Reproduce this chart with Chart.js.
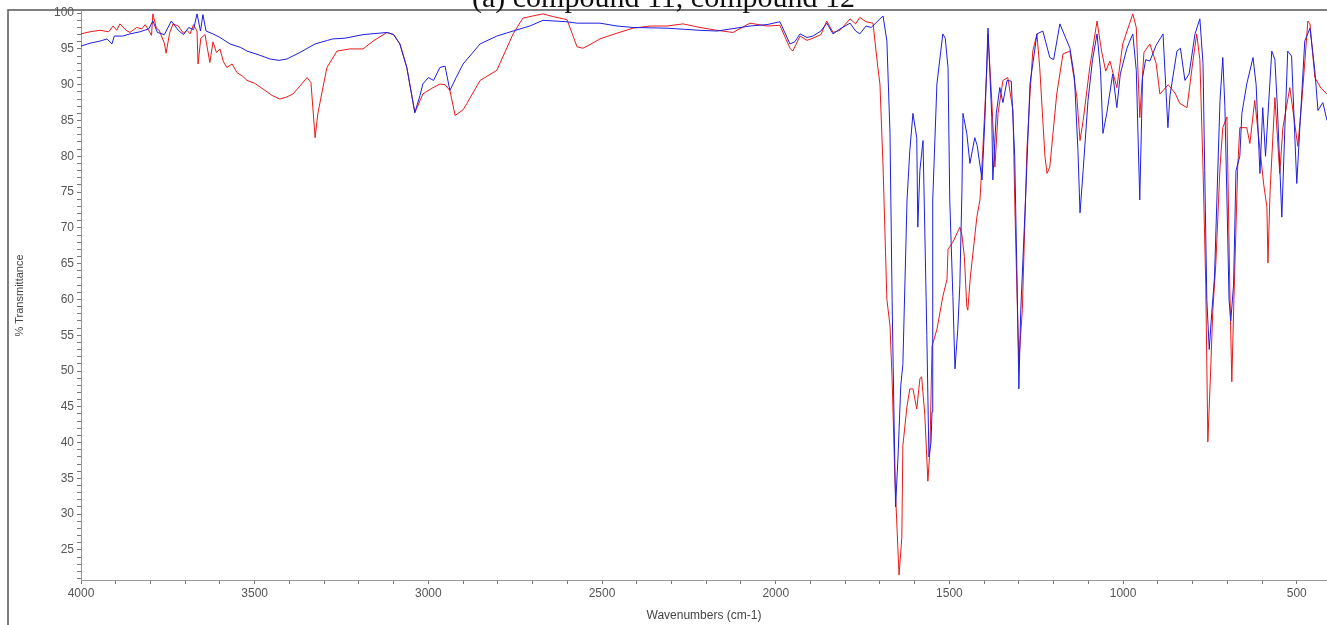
<!DOCTYPE html>
<html>
<head>
<meta charset="utf-8">
<title>IR spectra</title>
<script src="https://cdn.jsdelivr.net/npm/chart.js@4.4.0/dist/chart.umd.min.js"></script>
<style>
  html, body { margin: 0; padding: 0; background: #fff; overflow: hidden; }
  #wrap { position: relative; width: 1327px; height: 625px; }
  #title {
    position: absolute; left: 0; top: -18px; width: 1327px; z-index: 2;
    text-align: center; white-space: nowrap; color: #111;
    font: 30px/30px "Liberation Serif", "DejaVu Serif", serif;
  }
  canvas { position: absolute; left: 0; top: 0; }
</style>
</head>
<body>
<div id="wrap">
  <div id="title">(a) compound 11, compound 12</div>
  <canvas id="ir_chart" width="1327" height="625"></canvas>
</div>
<script>
// wavenumbers (cm-1) and % transmittance
const redWn = [4000, 3974, 3945, 3920, 3908, 3897, 3888, 3870, 3859, 3840, 3825, 3815, 3797, 3793, 3783, 3775, 3760, 3755, 3745, 3735,
  3720, 3705, 3695, 3686, 3676, 3666, 3663, 3655, 3643, 3629, 3620, 3610, 3600, 3590, 3580, 3565, 3551, 3535, 3522, 3500,
  3476, 3450, 3427, 3407, 3390, 3370, 3349, 3338, 3326, 3318, 3306, 3292, 3263, 3226, 3188, 3159, 3119, 3100, 3082, 3062,
  3039, 3016, 2990, 2967, 2952, 2938, 2923, 2900, 2889, 2851, 2803, 2756, 2728, 2700, 2670, 2640, 2601, 2585, 2572, 2555,
  2535, 2506, 2457, 2411, 2362, 2313, 2267, 2218, 2169, 2123, 2074, 2025, 1988, 1959, 1951, 1930, 1910, 1893, 1870, 1853,
  1835, 1815, 1786, 1770, 1758, 1740, 1720, 1706, 1700, 1691, 1680, 1671, 1665, 1657, 1645, 1637, 1634, 1622, 1614, 1605,
  1594, 1585, 1580, 1571, 1562, 1556, 1550, 1536, 1519, 1507, 1504, 1490, 1470, 1464, 1457, 1450, 1447, 1440, 1421, 1412,
  1404, 1392, 1389, 1378, 1369, 1360, 1346, 1332, 1317, 1312, 1305, 1300, 1290, 1277, 1268, 1260, 1248, 1240, 1225, 1219,
  1211, 1191, 1173, 1153, 1133, 1124, 1115, 1096, 1075, 1062, 1050, 1038, 1018, 1001, 972, 962, 952, 940, 923, 905,
  894, 870, 850, 837, 816, 799, 788, 779, 770, 762, 756, 748, 742, 733, 721, 713, 701, 693, 687, 681,
  670, 664, 644, 635, 621, 606, 595, 586, 583, 577, 563, 549, 540, 520, 497, 485, 468, 462, 448, 430, 413];
const redT = [97.1, 97.4, 97.6, 97.4, 98.2, 97.6, 98.5, 97.6, 97.3, 98.0, 97.8, 98.4, 96.9, 99.9, 97.9, 97.6, 95.8, 94.4, 97.2, 98.5,
  98.2, 97.2, 97.6, 97.1, 98.4, 97.5, 92.9, 96.5, 97.0, 93.1, 96.0, 94.5, 95.0, 93.2, 92.4, 92.9, 91.7, 91.2, 90.6, 90.2,
  89.4, 88.5, 88.0, 88.3, 88.7, 89.8, 91.0, 90.3, 82.6, 86.0, 89.0, 92.4, 94.7, 95.0, 95.0, 96.1, 97.3, 97.0, 95.7, 92.4,
  86.1, 88.7, 89.5, 90.1, 90.0, 89.2, 85.7, 86.5, 87.4, 90.6, 92.0, 97.1, 99.3, 99.6, 99.9, 99.5, 99.1, 97.0, 95.3, 95.1,
  95.6, 96.4, 97.2, 97.9, 98.2, 98.2, 98.5, 98.0, 97.6, 97.3, 98.6, 98.2, 98.3, 95.1, 94.7, 96.8, 96.2, 96.5, 97.0, 98.9,
  97.3, 97.6, 99.2, 98.5, 99.4, 98.8, 98.6, 92.4, 90.1, 78.5, 60.0, 56.3, 48.9, 35.0, 21.5, 26.7, 39.6, 45.1, 47.5, 47.5,
  44.7, 48.9, 49.2, 44.0, 34.6, 39.0, 53.5, 55.8, 60.4, 62.8, 67.0, 68.0, 70.1, 69.0, 66.0, 59.0, 58.5, 63.0, 71.5, 73.9,
  80.8, 92.4, 97.1, 87.8, 78.5, 86.0, 90.6, 91.0, 86.4, 73.9, 60.0, 51.3, 58.6, 80.8, 88.7, 94.7, 97.1, 92.4, 80.0, 77.6,
  78.5, 88.7, 94.3, 94.7, 88.2, 82.2, 85.0, 92.4, 98.9, 94.7, 91.9, 93.3, 89.6, 95.7, 99.9, 98.0, 85.4, 94.5, 95.7, 93.0,
  88.7, 90.0, 88.8, 87.4, 86.8, 93.3, 97.1, 93.5, 78.5, 62.0, 40.1, 50.0, 58.2, 65.0, 78.5, 84.0, 85.5, 62.0, 48.5, 60.0,
  78.5, 84.0, 84.0, 81.8, 87.8, 81.0, 76.0, 72.9, 65.1, 75.0, 88.2, 77.6, 84.0, 89.6, 81.4, 88.0, 98.9, 98.5, 91.0, 89.5, 88.7];

// blue trace
const blueWn = [4000, 3974, 3945, 3925, 3911, 3904, 3880, 3859, 3830, 3805, 3793, 3780, 3760, 3740, 3720, 3705, 3690, 3676, 3666, 3656,
  3649, 3640, 3620, 3600, 3571, 3540, 3522, 3490, 3456, 3430, 3407, 3370, 3326, 3290, 3275, 3240, 3188, 3119, 3100, 3082,
  3062, 3039, 3024, 3016, 3000, 2985, 2967, 2952, 2938, 2920, 2900, 2851, 2803, 2756, 2708, 2670, 2601, 2572, 2506, 2457,
  2411, 2313, 2218, 2169, 2074, 2025, 1988, 1959, 1945, 1930, 1910, 1893, 1870, 1853, 1835, 1815, 1786, 1770, 1758, 1740,
  1725, 1700, 1691, 1680, 1671, 1665, 1660, 1655, 1648, 1640, 1634, 1622, 1614, 1605, 1594, 1591, 1585, 1576, 1571, 1565,
  1559, 1553, 1550, 1548, 1536, 1519, 1512, 1504, 1499, 1490, 1484, 1476, 1470, 1464, 1461, 1450, 1441, 1427, 1420, 1406,
  1398, 1389, 1378, 1375, 1365, 1355, 1346, 1334, 1322, 1312, 1305, 1300, 1295, 1280, 1268, 1248, 1231, 1211, 1200, 1182,
  1165, 1153, 1140, 1130, 1124, 1115, 1101, 1088, 1075, 1065, 1058, 1047, 1030, 1018, 1008, 989, 972, 962, 952, 944,
  935, 923, 905, 885, 871, 865, 845, 835, 822, 810, 793, 779, 770, 765, 759, 752, 745, 737, 730, 721,
  713, 707, 701, 695, 690, 682, 675, 664, 658, 644, 626, 617, 606, 598, 590, 572, 563, 556, 543, 535,
  526, 515, 506, 500, 490, 477, 462, 448, 439, 425, 413];
const blueT = [95.4, 95.8, 96.1, 96.4, 95.7, 96.8, 96.8, 97.1, 97.4, 97.8, 98.9, 97.3, 97.0, 98.9, 97.6, 97.0, 98.0, 97.7, 99.9, 97.5,
  99.8, 97.5, 97.1, 96.6, 95.7, 95.2, 94.7, 94.2, 93.6, 93.4, 93.6, 94.5, 95.7, 96.2, 96.4, 96.5, 97.0, 97.3, 97.0, 95.7,
  92.4, 86.1, 88.5, 90.1, 91.0, 90.6, 92.4, 92.6, 89.2, 91.0, 92.9, 95.7, 96.8, 97.5, 98.2, 99.0, 98.8, 98.6, 98.6, 98.2,
  98.0, 97.9, 97.6, 97.5, 98.2, 98.4, 98.8, 95.7, 96.0, 97.1, 96.6, 96.8, 97.5, 98.6, 97.1, 97.8, 98.6, 97.5, 97.1, 98.2,
  98.0, 99.2, 99.6, 96.1, 83.2, 60.0, 45.0, 31.0, 38.0, 48.0, 50.9, 73.9, 80.8, 86.0, 82.6, 70.1, 78.0, 82.2, 70.0, 55.0,
  38.0, 40.0, 44.3, 73.9, 90.1, 97.1, 96.5, 92.4, 73.9, 60.4, 50.3, 55.8, 62.0, 75.0, 86.0, 83.2, 79.0, 82.6, 81.5, 76.7,
  85.0, 97.9, 85.4, 76.7, 86.0, 89.6, 87.5, 90.6, 90.5, 80.0, 62.0, 47.5, 58.0, 75.0, 90.1, 97.1, 97.5, 93.8, 93.5, 98.5,
  96.5, 95.1, 91.0, 80.8, 72.1, 78.0, 87.8, 93.5, 97.1, 92.0, 83.2, 86.0, 91.5, 86.8, 91.5, 95.1, 97.1, 92.0, 73.9, 91.0,
  93.5, 93.3, 95.5, 97.1, 84.0, 88.5, 94.7, 95.1, 90.6, 91.5, 97.1, 99.2, 93.0, 78.0, 60.0, 53.0, 58.0, 63.0, 73.9, 87.8,
  93.8, 87.0, 73.9, 60.0, 57.0, 62.0, 78.0, 80.0, 86.0, 90.1, 93.8, 90.0, 77.6, 86.8, 80.0, 94.7, 93.5, 87.0, 71.5, 83.0,
  94.7, 94.0, 83.2, 76.2, 85.0, 96.1, 97.9, 92.0, 86.4, 87.5, 85.0];

// axis ranges
const wnMin = 413;
const wnMax = 4000;
const tMin = 20.8;
const tMax = 100.3;

const toPoints = (xs, ys) => xs.map((x, i) => ({ x: x, y: ys[i] }));

const framePlugin = {
  id: "frame",
  afterDraw(chart) {
    const ctx = chart.ctx;
    ctx.save();
    ctx.strokeStyle = "#555";
    ctx.lineWidth = 1.5;
    ctx.beginPath();
    ctx.moveTo(8, chart.height);
    ctx.lineTo(8, 10);
    ctx.lineTo(chart.width, 10);
    ctx.stroke();
    ctx.restore();
  },
};

const labelFont = { family: "'Liberation Sans', Arial, sans-serif", size: 12 };

const ctx = document.getElementById("ir_chart").getContext("2d");
new Chart(ctx, {
  type: "scatter",
  data: {
    datasets: [
      {
        label: "compound 12",
        data: toPoints(blueWn, blueT),
        showLine: true,
        borderColor: "rgb(30, 30, 225)",
        borderWidth: 1,
        pointRadius: 0,
        tension: 0,
      },
      {
        label: "compound 11",
        data: toPoints(redWn, redT),
        showLine: true,
        borderColor: "rgb(235, 25, 25)",
        borderWidth: 1,
        pointRadius: 0,
        tension: 0,
      },
    ],
  },
  options: {
    responsive: false,
    animation: false,
    devicePixelRatio: 1,
    layout: { padding: { top: 11, right: 0, left: 0, bottom: 0 } },
    plugins: {
      legend: { display: false },
      tooltip: { enabled: false },
    },
    scales: {
      x: {
        type: "linear",
        reverse: true,
        min: wnMin,
        max: wnMax,
        afterFit: (scale) => { scale.height = 45; },
        border: { color: "#999", width: 1 },
        grid: { drawOnChartArea: false, drawTicks: true, tickLength: 4, color: "#777" },
        ticks: {
          stepSize: 100,
          includeBounds: false,
          autoSkip: false,
          maxRotation: 0,
          color: "#555",
          font: labelFont,
          padding: 2,
          callback: (v) => (v % 500 === 0 ? v : ""),
        },
        title: {
          display: true,
          text: "Wavenumbers (cm-1)",
          color: "#444",
          font: labelFont,
          padding: { top: 0, bottom: 2 },
        },
      },
      y: {
        min: tMin,
        max: tMax,
        afterFit: (scale) => { scale.width = 81; },
        border: { color: "#999", width: 1 },
        grid: { drawOnChartArea: false, drawTicks: true, tickLength: 4, color: "#777" },
        ticks: {
          stepSize: 1,
          includeBounds: false,
          autoSkip: false,
          color: "#555",
          font: labelFont,
          padding: 3,
          callback: (v) => (v % 5 === 0 ? v : ""),
        },
        title: {
          display: true,
          text: "% Transmittance",
          color: "#444",
          font: { family: "'Liberation Sans', Arial, sans-serif", size: 11 },
          padding: { top: 13, bottom: 0 },
        },
      },
    },
  },
  plugins: [framePlugin],
});
</script>
</body>
</html>
